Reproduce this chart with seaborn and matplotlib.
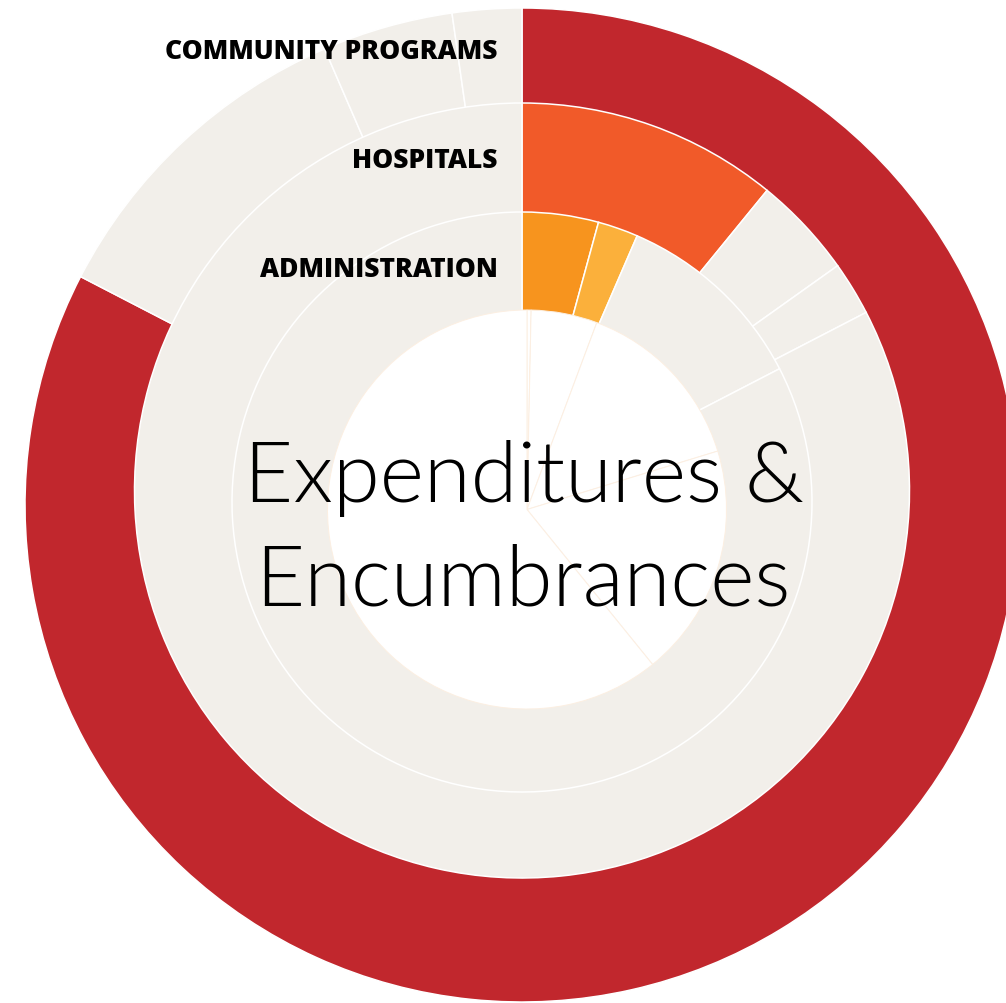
import matplotlib
matplotlib.use("Agg")
import matplotlib.pyplot as plt
import seaborn as sns

sns.set_theme(style="white")
plt.rcParams["font.family"] = ["Open Sans", "DejaVu Sans"]

# Share of total expenditures & encumbrances (%)
categories = ["Community Programs", "Hospitals", "Administration", "Other"]
shares = [82.6, 10.9, 4.25, 2.25]

# Segment order of each ring, clockwise from 12 o'clock
outer_order = ["Community Programs", "Hospitals", "Administration", "Other"]
middle_order = ["Hospitals", "Administration", "Other", "Community Programs"]
inner_order = ["Administration", "Other", "Hospitals", "Community Programs"]

# Faint breakdown inside the centre disk (%)
core_shares = [0.33, 5.36, 14.58, 18.89, 60.84]

ring_labels = ["COMMUNITY PROGRAMS", "HOSPITALS", "ADMINISTRATION"]
title_lines = ["Expenditures &", "Encumbrances"]

TRACK = "#F2EFEA"
highlight = {
    "outer": {"Community Programs": "#C1272D"},
    "middle": {"Hospitals": "#F15A29"},
    "inner": {"Administration": "#F7941E", "Other": "#FBB03B"},
}

W, H = 1006, 1004
fig = plt.figure(figsize=(W / 100, H / 100), dpi=100)
ax = fig.add_axes([0, 0, 1, 1])

share_of = dict(zip(categories, shares))


def draw_ring(order, colour_map, cx, cy, radius, z, lw=1.1, edge="white"):
    vals = [share_of[c] for c in order]
    cols = [colour_map.get(c, TRACK) for c in order]
    wedges, _ = ax.pie(
        vals, colors=cols, radius=radius, center=(cx, H - cy),
        startangle=90, counterclock=False, normalize=True,
        wedgeprops=dict(edgecolor=edge, linewidth=lw),
    )
    for w in wedges:
        w.set_zorder(z)
    return wedges


# rings are stacked as filled disks, outermost first
draw_ring(outer_order, highlight["outer"], 522, 506, 497, 1)
draw_ring(middle_order, highlight["middle"], 522, 491.5, 387.5, 2)
draw_ring(inner_order, highlight["inner"], 522, 503, 290, 3)

# white centre with faint spokes
core, _ = ax.pie(
    core_shares, colors=["white"] * len(core_shares), radius=199.5,
    center=(527, H - 510.5), startangle=90, counterclock=False,
    wedgeprops=dict(edgecolor="#FCEFE2", linewidth=0.7),
)
for w in core:
    w.set_zorder(4)

# ring labels
label_baselines = [59.3, 168, 276.7]
for text, yb in zip(ring_labels, label_baselines):
    ax.text(498, H - yb, text, ha="right", va="baseline", fontsize=19,
            fontweight="heavy", color="black", zorder=10,
            family=["Open Sans", "DejaVu Sans"])

# centre title
for text, x, yb in zip(title_lines, [524, 522.5], [502, 605]):
    ax.text(x, H - yb, text, ha="center", va="baseline", fontsize=61,
            fontweight=300, color="black", zorder=10,
            family=["Lato", "DejaVu Sans"])

ax.set_xlim(0, W)
ax.set_ylim(0, H)
ax.set_aspect("auto")
ax.axis("off")

fig.savefig("out.png", dpi=100, facecolor="white")
